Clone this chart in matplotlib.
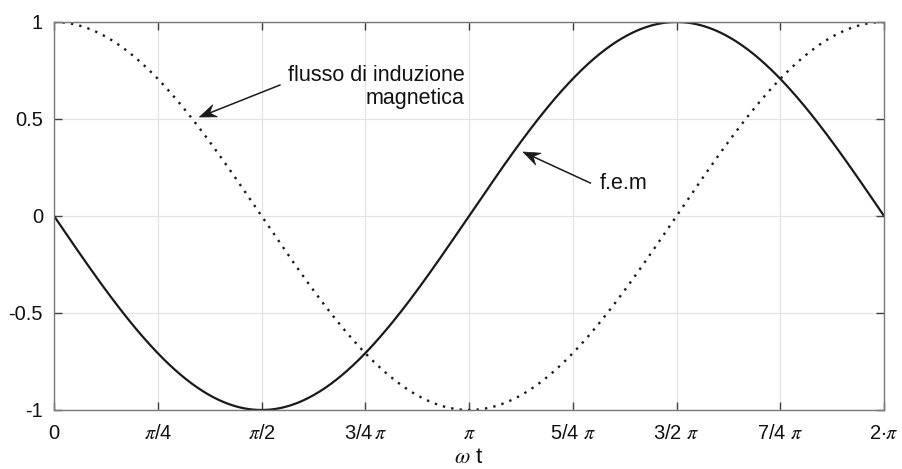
import numpy as np
import matplotlib
matplotlib.use("Agg")
import matplotlib.pyplot as plt
from matplotlib.patches import Polygon

plt.rcParams['font.family'] = ['Liberation Sans', 'DejaVu Sans']
plt.rcParams['mathtext.fontset'] = 'stix'
plt.rcParams['axes.unicode_minus'] = False

# Electrical angle over one full period
omega_t = np.linspace(0.0, 2.0 * np.pi, 600)
flux_amplitude = 1.0      # magnetic flux, cosine shape
emf_amplitude = 1.0       # induced e.m.f., lags the flux by a quarter period
flux = flux_amplitude * np.cos(omega_t)
emf = -emf_amplitude * np.sin(omega_t)

x_tick_values = [0, np.pi / 4, np.pi / 2, 3 * np.pi / 4, np.pi,
                 5 * np.pi / 4, 3 * np.pi / 2, 7 * np.pi / 4, 2 * np.pi]
x_tick_labels = ['0', r'$\pi$/4', r'$\pi$/2', r'3/4$\,\pi$', r'$\pi$',
                 r'5/4 $\pi$', r'3/2 $\pi$', r'7/4 $\pi$', r'2$\cdot\pi$']
y_tick_values = [-1, -0.5, 0, 0.5, 1]
y_tick_labels = ['-1', '-0.5', '0', '0.5', '1']

fig = plt.figure(figsize=(9.02, 4.69), dpi=100)
ax = fig.add_axes([0.0599, 0.1258, 0.9202, 0.8273])

ax.plot(omega_t, emf, color='#1a1a1a', lw=1.6, solid_capstyle='round')
ax.plot(omega_t, flux, color='#1a1a1a', lw=1.7, linestyle=(0, (1, 2.6)))

ax.set_xlim(0, 2 * np.pi)
ax.set_ylim(-1, 1)
ax.set_xticks(x_tick_values)
ax.set_xticklabels(x_tick_labels)
ax.set_yticks(y_tick_values)
ax.set_yticklabels(y_tick_labels)

ax.grid(True, color='#e3e3e3', lw=0.9)
ax.set_axisbelow(True)
for side in ax.spines.values():
    side.set_color('#7a7a7a')
    side.set_linewidth(1.0)
ax.tick_params(direction='in', length=6, width=1.0, color='#404040',
               top=True, right=True, labelsize=14.5, labelcolor='#111111')
ax.tick_params(axis='x', pad=10)
ax.tick_params(axis='y', pad=8)

ax.set_xlabel(r'$\omega$ t', fontsize=16, labelpad=3, color='#111111')


def draw_arrow(tail, tip, head_len=17, head_w=6.5, notch=0.65):
    """Thin shaft with a swept-back filled head, built in pixel space."""
    t0 = ax.transData.transform(tail)
    t1 = ax.transData.transform(tip)
    u = (t1 - t0) / np.hypot(*(t1 - t0))
    n = np.array([-u[1], u[0]])
    base = t1 - notch * head_len * u
    ax.add_line(plt.Line2D([t0[0], base[0]], [t0[1], base[1]], transform=None,
                           color='#1a1a1a', lw=1.1))
    head = np.array([t1,
                     t1 - head_len * u + head_w * n,
                     base,
                     t1 - head_len * u - head_w * n])
    ax.add_patch(Polygon(head, closed=True, transform=None,
                         facecolor='#1a1a1a', edgecolor='#1a1a1a', lw=0.5))


draw_arrow((1.71, 0.675), (1.10, 0.51))
ax.text(3.11, 0.665, 'flusso di induzione\nmagnetica', ha='right', va='center',
        multialignment='right', fontsize=15.5, color='#111111', linespacing=1.17)

draw_arrow((4.06, 0.17), (3.55, 0.33))
ax.text(4.13, 0.165, 'f.e.m', ha='left', va='center', fontsize=15.5, color='#111111')

fig.savefig('out.png', dpi=100)
